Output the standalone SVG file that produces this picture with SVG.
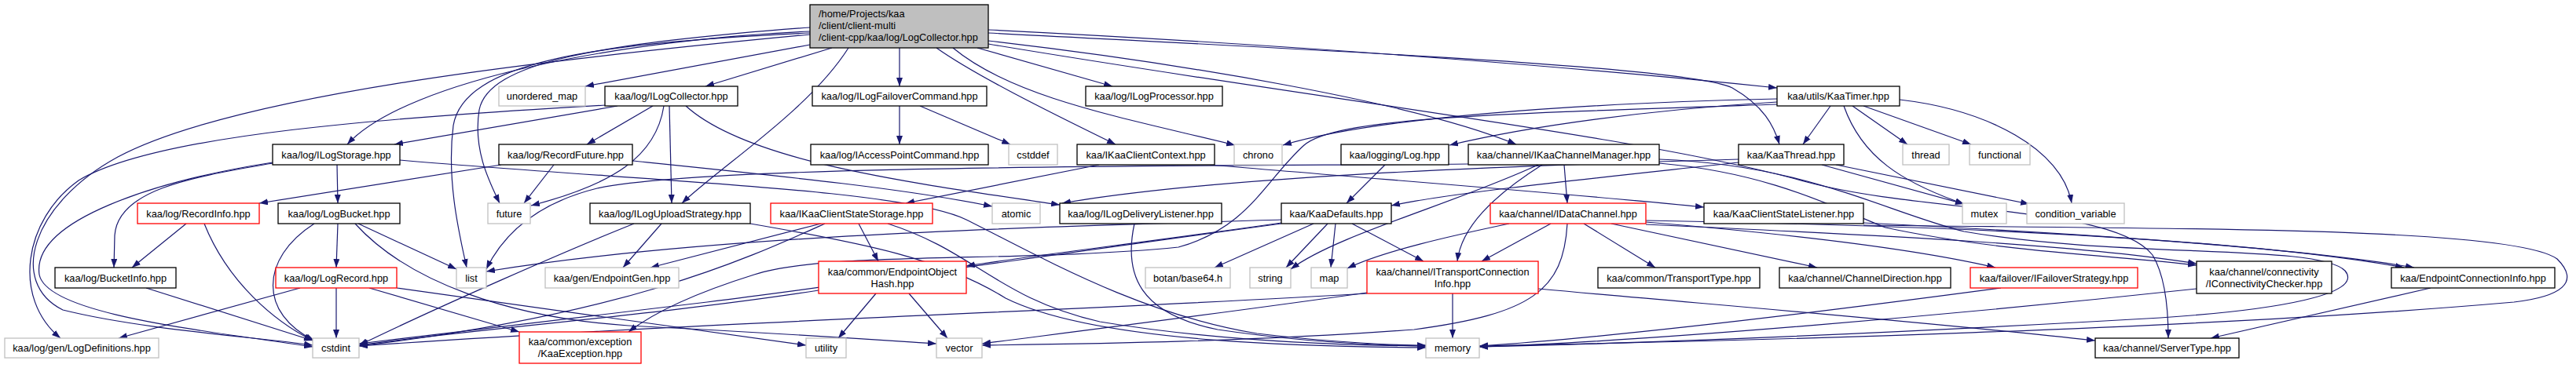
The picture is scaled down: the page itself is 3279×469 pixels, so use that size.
<svg xmlns="http://www.w3.org/2000/svg" width="3279" height="469" viewBox="0 0 3279 469">
<style>
.e{fill:none;stroke:#191970;stroke-width:1.2;marker-end:url(#ah)}
.n rect{fill:#fff;stroke:#000;stroke-width:1.3}
.g rect{stroke:#c0c0c0}
.r rect{stroke:#f00}
.m rect{fill:#bfbfbf}
text{font-family:"Liberation Sans",Arial,sans-serif;font-size:12.8px;fill:#000;text-anchor:middle}
.l{text-anchor:start}
</style>
<defs>
<marker id="ah" markerUnits="userSpaceOnUse" markerWidth="11" markerHeight="8" refX="11" refY="4" orient="auto" viewBox="0 0 11 8"><path d="M0,0 L11,4 L0,8 z" fill="#191970"/></marker>
</defs>
<rect width="3279" height="469" fill="#fff"/>
<g id="edges">
<path class="e" d="M1031,57 L745,110"/>
<path class="e" d="M1059,61 L898,110"/>
<path class="e" d="M1145,61 L1145,110"/>
<path class="e" d="M1244,61 L1416,110"/>
<path class="e" d="M1192,61 C1240,95 1330,140 1420,184"/>
<path class="e" d="M1213,61 C1290,125 1430,150 1572,185"/>
<path class="e" d="M1080,61 C1030,140 920,210 868,259"/>
<path class="e" d="M1031,40 C800,50 520,100 442,184"/>
<path class="e" d="M1031,42 C750,55 590,80 577,160 C568,230 585,300 594,341"/>
<path class="e" d="M1031,35 C760,55 622,80 610,140 C602,190 622,230 636,259"/>
<path class="e" d="M1031,44 C700,75 300,120 150,200 C40,260 10,360 80,395 C180,420 330,430 398,440"/>
<path class="e" d="M1258,38 C1700,60 2050,90 2262,112"/>
<path class="e" d="M1258,42 C1700,65 2150,85 2205,112 C2245,135 2258,160 2265,184"/>
<path class="e" d="M1258,52 C1500,80 1800,130 1930,184"/>
<path class="e" d="M1258,56 C1700,130 2100,175 2300,232 C2450,272 2690,262 2740,325 C2758,355 2760,400 2760,431"/>
<path class="e" d="M786,135 L502,184"/>
<path class="e" d="M831,135 L747,184"/>
<path class="e" d="M845,135 C835,200 780,235 676,262"/>
<path class="e" d="M852,135 L855,259"/>
<path class="e" d="M873,135 C950,205 1150,232 1349,261"/>
<path class="e" d="M772,134 C500,150 200,170 100,230 C30,280 15,380 77,431"/>
<path class="e" d="M1145,135 L1145,184"/>
<path class="e" d="M1171,135 L1286,184"/>
<path class="e" d="M2262,126 C2000,132 1750,150 1633,185"/>
<path class="e" d="M2262,130 C2100,140 1950,160 1845,185"/>
<path class="e" d="M2262,133 C1900,145 1700,150 1660,185 C1610,230 1590,290 1500,315 C1300,335 1050,320 960,350 C880,375 830,400 800,423"/>
<path class="e" d="M2330,135 L2295,184"/>
<path class="e" d="M2358,135 L2428,184"/>
<path class="e" d="M2372,135 L2509,184"/>
<path class="e" d="M2347,135 C2370,200 2420,232 2500,260"/>
<path class="e" d="M2418,127 C2530,140 2625,190 2637,259"/>
<path class="e" d="M2319,210 L2500,260"/>
<path class="e" d="M2337,210 L2583,260"/>
<path class="e" d="M2213,207 C2050,225 1850,245 1771,262"/>
<path class="e" d="M2213,203 C1900,212 1550,225 1352,259"/>
<path class="e" d="M1399,210 L1153,259"/>
<path class="e" d="M1540,210 C1800,232 2000,247 2169,264"/>
<path class="e" d="M638,210 L330,259"/>
<path class="e" d="M705,210 L667,259"/>
<path class="e" d="M805,205 C1000,225 1150,240 1263,263"/>
<path class="e" d="M429,210 L430,259"/>
<path class="e" d="M347,208 C250,225 150,240 146,300 L145,341"/>
<path class="e" d="M347,207 C200,230 40,280 50,350 C60,400 250,420 398,442"/>
<path class="e" d="M509,204 C800,230 1150,240 1230,280 C1330,330 1450,400 1600,425 C1700,437 1780,440 1815,440"/>
<path class="e" d="M237,285 L168,341"/>
<path class="e" d="M260,285 C290,360 350,410 398,434"/>
<path class="e" d="M430,285 L428,341"/>
<path class="e" d="M400,285 C330,330 330,400 400,434"/>
<path class="e" d="M456,285 L581,343"/>
<path class="e" d="M452,285 C520,360 650,405 800,415 C1000,425 1100,432 1192,438"/>
<path class="e" d="M382,367 L151,431"/>
<path class="e" d="M428,367 L428,431"/>
<path class="e" d="M470,367 L661,423"/>
<path class="e" d="M505,367 L1026,440"/>
<path class="e" d="M186,367 L398,434"/>
<path class="e" d="M842,285 L793,341"/>
<path class="e" d="M807,285 C720,320 560,390 457,440"/>
<path class="e" d="M955,285 C1100,310 1200,330 1280,380 C1400,440 1700,442 1815,443"/>
<path class="e" d="M1045,285 L828,341"/>
<path class="e" d="M1093,285 L1118,333"/>
<path class="e" d="M1050,285 C950,330 800,400 457,441"/>
<path class="e" d="M1130,285 C1240,320 1270,380 1400,410 C1550,435 1700,440 1815,441"/>
<path class="e" d="M1115,374 L1067,431"/>
<path class="e" d="M1157,374 L1206,431"/>
<path class="e" d="M1042,370 C850,400 600,420 457,440"/>
<path class="e" d="M1672,285 L1546,341"/>
<path class="e" d="M1690,285 L1637,341"/>
<path class="e" d="M1700,285 L1694,341"/>
<path class="e" d="M1721,285 L1812,333"/>
<path class="e" d="M1631,280 C1300,290 900,300 619,346"/>
<path class="e" d="M1631,284 C1450,310 1320,325 1230,339"/>
<path class="e" d="M1631,285 C1300,330 1100,360 900,385 C700,410 520,430 457,438"/>
<path class="e" d="M1763,210 L1714,259"/>
<path class="e" d="M1991,210 L1995,259"/>
<path class="e" d="M1963,210 C1900,250 1860,290 1855,333"/>
<path class="e" d="M1958,210 C1850,260 1700,300 1643,343"/>
<path class="e" d="M1869,209 C1500,212 900,210 760,240 C680,260 640,300 619,343"/>
<path class="e" d="M2112,208 C2250,220 2330,262 2400,290 C2550,322 2700,326 2796,338"/>
<path class="e" d="M2112,203 C2300,210 2400,270 2500,295 C2700,330 2950,310 2985,345 C3010,375 2900,395 2750,405 C2400,425 2100,437 1883,442"/>
<path class="e" d="M1921,285 C1850,300 1760,320 1715,342"/>
<path class="e" d="M1974,285 L1886,333"/>
<path class="e" d="M2016,285 L2107,341"/>
<path class="e" d="M1995,285 C1990,370 1950,400 1800,420 C1600,435 1400,438 1250,440"/>
<path class="e" d="M2051,285 L2313,341"/>
<path class="e" d="M2095,283 C2300,300 2450,320 2540,341"/>
<path class="e" d="M2095,286 C2400,300 2650,312 2796,336"/>
<path class="e" d="M2095,281 C2600,290 2900,312 3060,341"/>
<path class="e" d="M2372,284 C2700,300 2950,320 3073,341"/>
<path class="e" d="M2372,287 C2800,292 3200,290 3255,330 C3285,360 3260,378 3200,385 C2800,420 2200,435 1883,441"/>
<path class="e" d="M1849,374 L1849,431"/>
<path class="e" d="M1958,368 C2200,390 2450,410 2667,434"/>
<path class="e" d="M1740,373 C1550,400 1350,425 1250,438"/>
<path class="e" d="M1740,374 C1400,395 900,410 457,441"/>
<path class="e" d="M2547,367 C2300,400 2050,430 1883,441"/>
<path class="e" d="M2796,368 C2500,400 2100,435 1883,442"/>
<path class="e" d="M3094,367 L2814,431"/>
<path class="e" d="M1444,285 C1430,350 1450,400 1550,420 C1650,435 1750,440 1815,441"/>
</g>
<g id="n_main" class="n m"><rect x="1031" y="6" width="227" height="55"/><text class="l" x="1042" y="22">/home/Projects/kaa</text><text class="l" x="1042" y="37">/client/client-multi</text><text class="l" x="1042" y="52">/client-cpp/kaa/log/LogCollector.hpp</text></g>
<g id="n_unordered_map" class="n g"><rect x="635" y="110" width="110" height="25"/><text x="690" y="127">unordered_map</text></g>
<g id="n_ILogCollector" class="n"><rect x="770" y="110" width="169" height="25"/><text x="854.5" y="127">kaa/log/ILogCollector.hpp</text></g>
<g id="n_ILogFailoverCommand" class="n"><rect x="1034" y="110" width="222" height="25"/><text x="1145" y="127">kaa/log/ILogFailoverCommand.hpp</text></g>
<g id="n_ILogProcessor" class="n"><rect x="1382" y="110" width="174" height="25"/><text x="1469" y="127">kaa/log/ILogProcessor.hpp</text></g>
<g id="n_KaaTimer" class="n"><rect x="2262" y="110" width="156" height="25"/><text x="2340" y="127">kaa/utils/KaaTimer.hpp</text></g>
<g id="n_ILogStorage" class="n"><rect x="347" y="184" width="162" height="26"/><text x="428" y="201.5">kaa/log/ILogStorage.hpp</text></g>
<g id="n_RecordFuture" class="n"><rect x="635" y="184" width="170" height="26"/><text x="720" y="201.5">kaa/log/RecordFuture.hpp</text></g>
<g id="n_IAccessPointCommand" class="n"><rect x="1032" y="184" width="226" height="26"/><text x="1145" y="201.5">kaa/log/IAccessPointCommand.hpp</text></g>
<g id="n_cstddef" class="n g"><rect x="1284" y="184" width="62" height="26"/><text x="1315" y="201.5">cstddef</text></g>
<g id="n_IKaaClientContext" class="n"><rect x="1371" y="184" width="175" height="26"/><text x="1458.5" y="201.5">kaa/IKaaClientContext.hpp</text></g>
<g id="n_chrono" class="n g"><rect x="1571" y="184" width="61" height="26"/><text x="1601.5" y="201.5">chrono</text></g>
<g id="n_Log" class="n"><rect x="1707" y="184" width="137" height="26"/><text x="1775.5" y="201.5">kaa/logging/Log.hpp</text></g>
<g id="n_IKaaChannelManager" class="n"><rect x="1869" y="184" width="243" height="26"/><text x="1990.5" y="201.5">kaa/channel/IKaaChannelManager.hpp</text></g>
<g id="n_KaaThread" class="n"><rect x="2213" y="184" width="134" height="26"/><text x="2280" y="201.5">kaa/KaaThread.hpp</text></g>
<g id="n_thread" class="n g"><rect x="2422" y="184" width="59" height="26"/><text x="2451.5" y="201.5">thread</text></g>
<g id="n_functional" class="n g"><rect x="2507" y="184" width="77" height="26"/><text x="2545.5" y="201.5">functional</text></g>
<g id="n_RecordInfo" class="n r"><rect x="175" y="259" width="155" height="26"/><text x="252.5" y="276.5">kaa/log/RecordInfo.hpp</text></g>
<g id="n_LogBucket" class="n"><rect x="354" y="259" width="155" height="26"/><text x="431.5" y="276.5">kaa/log/LogBucket.hpp</text></g>
<g id="n_future" class="n g"><rect x="621" y="259" width="54" height="26"/><text x="648" y="276.5">future</text></g>
<g id="n_ILogUploadStrategy" class="n"><rect x="751" y="259" width="204" height="26"/><text x="853" y="276.5">kaa/log/ILogUploadStrategy.hpp</text></g>
<g id="n_IKaaClientStateStorage" class="n r"><rect x="981" y="259" width="206" height="26"/><text x="1084" y="276.5">kaa/IKaaClientStateStorage.hpp</text></g>
<g id="n_atomic" class="n g"><rect x="1263" y="259" width="61" height="26"/><text x="1293.5" y="276.5">atomic</text></g>
<g id="n_ILogDeliveryListener" class="n"><rect x="1349" y="259" width="206" height="26"/><text x="1452" y="276.5">kaa/log/ILogDeliveryListener.hpp</text></g>
<g id="n_KaaDefaults" class="n"><rect x="1631" y="259" width="140" height="26"/><text x="1701" y="276.5">kaa/KaaDefaults.hpp</text></g>
<g id="n_IDataChannel" class="n r"><rect x="1897" y="259" width="198" height="26"/><text x="1996" y="276.5">kaa/channel/IDataChannel.hpp</text></g>
<g id="n_KaaClientStateListener" class="n"><rect x="2169" y="259" width="203" height="26"/><text x="2270.5" y="276.5">kaa/KaaClientStateListener.hpp</text></g>
<g id="n_mutex" class="n g"><rect x="2498" y="259" width="56" height="26"/><text x="2526" y="276.5">mutex</text></g>
<g id="n_condition_variable" class="n g"><rect x="2580" y="259" width="124" height="26"/><text x="2642" y="276.5">condition_variable</text></g>
<g id="n_BucketInfo" class="n"><rect x="70" y="341" width="154" height="26"/><text x="147" y="358.5">kaa/log/BucketInfo.hpp</text></g>
<g id="n_LogRecord" class="n r"><rect x="351" y="341" width="154" height="26"/><text x="428" y="358.5">kaa/log/LogRecord.hpp</text></g>
<g id="n_list" class="n g"><rect x="581" y="341" width="38" height="26"/><text x="600" y="358.5">list</text></g>
<g id="n_EndpointGen" class="n g"><rect x="694" y="341" width="170" height="26"/><text x="779" y="358.5">kaa/gen/EndpointGen.hpp</text></g>
<g id="n_EndpointObjectHash" class="n r"><rect x="1042" y="333" width="188" height="41"/><text x="1136" y="350.5">kaa/common/EndpointObject</text><text x="1136" y="365.5">Hash.hpp</text></g>
<g id="n_base64" class="n g"><rect x="1458" y="341" width="108" height="26"/><text x="1512" y="358.5">botan/base64.h</text></g>
<g id="n_string" class="n g"><rect x="1591" y="341" width="52" height="26"/><text x="1617" y="358.5">string</text></g>
<g id="n_map" class="n g"><rect x="1669" y="341" width="46" height="26"/><text x="1692" y="358.5">map</text></g>
<g id="n_ITransportConnectionInfo" class="n r"><rect x="1740" y="333" width="218" height="41"/><text x="1849" y="350.5">kaa/channel/ITransportConnection</text><text x="1849" y="365.5">Info.hpp</text></g>
<g id="n_TransportType" class="n"><rect x="2034" y="341" width="206" height="26"/><text x="2137" y="358.5">kaa/common/TransportType.hpp</text></g>
<g id="n_ChannelDirection" class="n"><rect x="2265" y="341" width="218" height="26"/><text x="2374" y="358.5">kaa/channel/ChannelDirection.hpp</text></g>
<g id="n_IFailoverStrategy" class="n r"><rect x="2508" y="341" width="213" height="26"/><text x="2614.5" y="358.5">kaa/failover/IFailoverStrategy.hpp</text></g>
<g id="n_IConnectivityChecker" class="n"><rect x="2796" y="333" width="172" height="41"/><text x="2882" y="350.5">kaa/channel/connectivity</text><text x="2882" y="365.5">/IConnectivityChecker.hpp</text></g>
<g id="n_EndpointConnectionInfo" class="n"><rect x="3044" y="341" width="208" height="26"/><text x="3148" y="358.5">kaa/EndpointConnectionInfo.hpp</text></g>
<g id="n_LogDefinitions" class="n g"><rect x="6" y="431" width="196" height="25"/><text x="104" y="448">kaa/log/gen/LogDefinitions.hpp</text></g>
<g id="n_cstdint" class="n g"><rect x="398" y="431" width="59" height="25"/><text x="427.5" y="448">cstdint</text></g>
<g id="n_KaaException" class="n r"><rect x="661" y="423" width="155" height="40"/><text x="738.5" y="440">kaa/common/exception</text><text x="738.5" y="455">/KaaException.hpp</text></g>
<g id="n_utility" class="n g"><rect x="1026" y="431" width="51" height="25"/><text x="1051.5" y="448">utility</text></g>
<g id="n_vector" class="n g"><rect x="1192" y="431" width="58" height="25"/><text x="1221" y="448">vector</text></g>
<g id="n_memory" class="n g"><rect x="1815" y="431" width="68" height="25"/><text x="1849" y="448">memory</text></g>
<g id="n_ServerType" class="n"><rect x="2667" y="431" width="183" height="25"/><text x="2758.5" y="448">kaa/channel/ServerType.hpp</text></g>
</svg>
